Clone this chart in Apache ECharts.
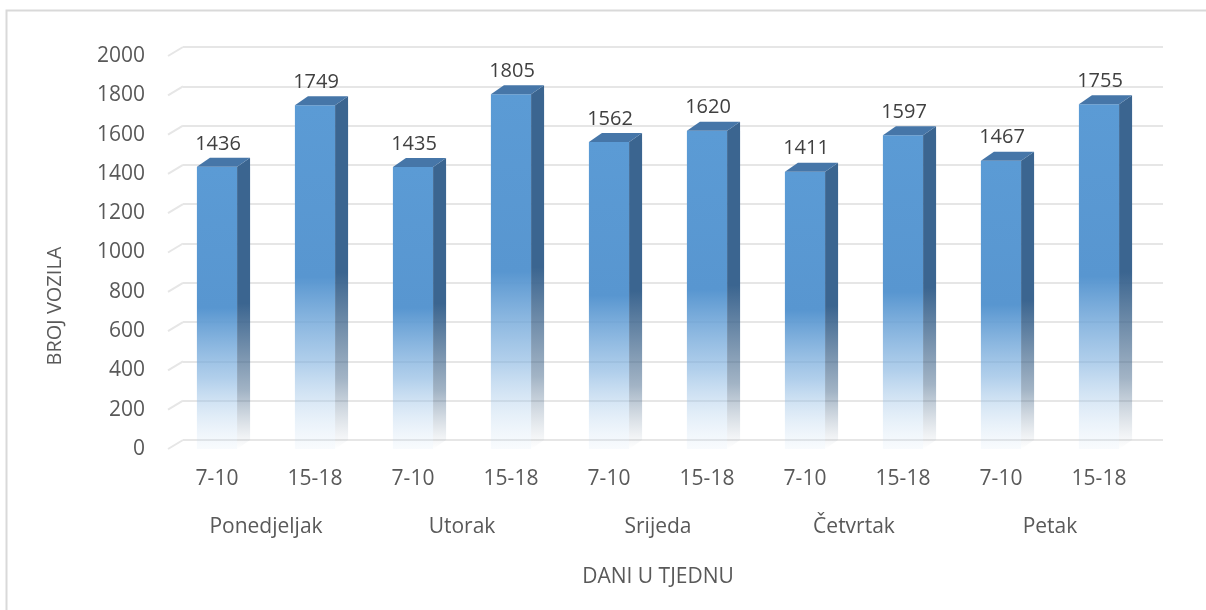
<!DOCTYPE html>
<html>
<head>
<meta charset="utf-8">
<script src="https://cdn.jsdelivr.net/npm/echarts@6/dist/echarts.min.js"></script>
<style>
  html, body { margin: 0; padding: 0; background: #fff; }
  #chart { width: 1206px; height: 610px; }
</style>
</head>
<body>
<div id="chart"></div>
<script>
// podaci
const slots = ['7-10', '15-18', '7-10', '15-18', '7-10', '15-18', '7-10', '15-18', '7-10', '15-18'];
const days = ['Ponedjeljak', 'Utorak', 'Srijeda', 'Četvrtak', 'Petak'];
const vozila = [1436, 1749, 1435, 1805, 1562, 1620, 1411, 1597, 1467, 1755];
const yTicks = [0, 200, 400, 600, 800, 1000, 1200, 1400, 1600, 1800, 2000];

const FONT = '"Open Sans", sans-serif';
const TXT = '#595959';
const DX = 13, DY = -9; // 3D pomak

const chart = echarts.init(document.getElementById('chart'), null, { renderer: 'canvas' });

function renderBar(params, api) {
  const idx = api.value(0);
  const val = api.value(1);
  const top = api.coord([idx, val]);
  const base = api.coord([idx, 0]);
  const w = api.size([1, 0])[0] * 0.41;
  const x0 = top[0] - w / 2;
  const y0 = top[1];
  const y1 = base[1];
  return {
    type: 'group',
    children: [
      {
        type: 'rect',
        shape: { x: x0, y: y0, width: w, height: y1 - y0 },
        style: {
          fill: {
            type: 'linear', x: 0, y: 0, x2: 0, y2: 1,
            colorStops: [
              { offset: 0, color: '#5b9bd5' },
              { offset: 0.5, color: '#5896d0' },
              { offset: 0.75, color: 'rgba(125,175,222,0.6)' },
              { offset: 1, color: 'rgba(200,222,242,0.12)' }
            ]
          }
        }
      },
      {
        type: 'polygon',
        shape: { points: [[x0 + w, y0], [x0 + w + DX, y0 + DY], [x0 + w + DX, y1 + DY], [x0 + w, y1]] },
        style: {
          fill: {
            type: 'linear', x: 0, y: 0, x2: 0, y2: 1,
            colorStops: [
              { offset: 0, color: '#3b6590' },
              { offset: 0.5, color: '#3b6590' },
              { offset: 0.8, color: 'rgba(70,105,140,0.5)' },
              { offset: 1, color: 'rgba(120,140,160,0)' }
            ]
          }
        }
      },
      {
        type: 'polygon',
        shape: { points: [[x0, y0], [x0 + DX, y0 + DY], [x0 + w + DX, y0 + DY], [x0 + w, y0]] },
        style: { fill: '#4676a8' }
      },
      {
        type: 'text',
        style: {
          text: String(val),
          x: top[0] + 1,
          y: y0 + DY - 4,
          align: 'center',
          verticalAlign: 'bottom',
          fill: '#404040',
          font: '20px ' + FONT
        }
      }
    ]
  };
}

function renderGridDiag(params, api) {
  const v = api.value(1);
  const p = api.coord([0, v]);
  const x = params.coordSys.x;
  return {
    type: 'line',
    shape: { x1: x, y1: p[1], x2: x + DX + 2, y2: p[1] + DY },
    style: { stroke: '#e6e6e6', lineWidth: 2 }
  };
}

const option = {
  backgroundColor: '#fff',
  animation: false,
  textStyle: { fontFamily: FONT },
  graphic: [
    {
      type: 'rect',
      shape: { x: 6.5, y: 10.5, width: 1260, height: 700 },
      style: { fill: 'none', stroke: '#d9d9d9', lineWidth: 2 },
      silent: true
    },
    {
      type: 'text',
      x: 55, y: 306,
      rotation: Math.PI / 2,
      style: {
        text: 'BROJ VOZILA',
        align: 'center', verticalAlign: 'middle',
        fill: TXT, font: '20px ' + FONT
      }
    }
  ],
  grid: [
    { left: 168, right: 58, top: 56, bottom: 161 },
    { left: 168 + DX + 2, right: 58 - DX - 2, top: 56 + DY, bottom: 161 - DY }
  ],
  xAxis: [
    {
      type: 'category', gridIndex: 0, data: slots,
      axisLine: { show: false }, axisTick: { show: false },
      axisLabel: { color: TXT, fontSize: 21, margin: 20, fontFamily: FONT }
    },
    {
      type: 'category', gridIndex: 0, data: days, position: 'bottom', offset: 48,
      axisLine: { show: false }, axisTick: { show: false },
      axisLabel: { color: TXT, fontSize: 21, margin: 20, fontFamily: FONT },
      name: 'DANI U TJEDNU', nameLocation: 'middle', nameGap: 70,
      nameTextStyle: { color: TXT, fontSize: 21, fontFamily: FONT }
    },
    {
      type: 'category', gridIndex: 1, data: slots, show: false
    }
  ],
  yAxis: [
    {
      type: 'value', gridIndex: 0, min: 0, max: 2000, interval: 200,
      axisLine: { show: false }, axisTick: { show: false },
      splitLine: { show: false },
      axisLabel: { color: TXT, fontSize: 21, margin: 23, fontFamily: FONT, formatter: v => String(v) }
    },
    {
      type: 'value', gridIndex: 1, min: 0, max: 2000, interval: 200,
      axisLine: { show: false }, axisTick: { show: false }, axisLabel: { show: false },
      splitLine: { show: true, lineStyle: { color: '#e6e6e6', width: 2 } }
    }
  ],
  series: [
    {
      type: 'custom',
      xAxisIndex: 0, yAxisIndex: 0,
      renderItem: renderGridDiag,
      data: yTicks.map(v => [0, v]),
      z: 1,
      silent: true
    },
    {
      type: 'custom',
      xAxisIndex: 0, yAxisIndex: 0,
      renderItem: renderBar,
      data: vozila.map((v, i) => [i, v]),
      z: 5
    }
  ]
};

chart.setOption(option);
</script>
</body>
</html>
